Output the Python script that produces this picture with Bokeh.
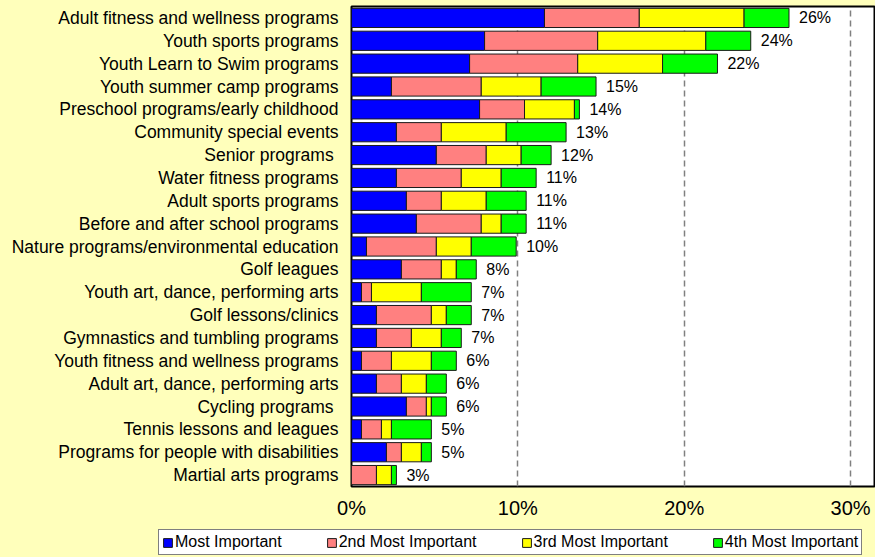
from bokeh.plotting import figure
from bokeh.models import (FactorRange, Range1d, Legend, LegendItem, LabelSet,
                          ColumnDataSource, FixedTicker, PrintfTickFormatter)
from bokeh.core.properties import value
from bokeh.embed import file_html
from bokeh.resources import INLINE

categories = [
    "Adult fitness and wellness programs",
    "Youth sports programs",
    "Youth Learn to Swim programs",
    "Youth summer camp programs",
    "Preschool programs/early childhood",
    "Community special events",
    "Senior programs ",
    "Water fitness programs",
    "Adult sports programs",
    "Before and after school programs",
    "Nature programs/environmental education",
    "Golf leagues",
    "Youth art, dance, performing arts",
    "Golf lessons/clinics",
    "Gymnastics and tumbling programs",
    "Youth fitness and wellness programs",
    "Adult art, dance, performing arts",
    "Cycling programs ",
    "Tennis lessons and leagues",
    "Programs for people with disabilities",
    "Martial arts programs",
]
most_important = [11.6, 8.0, 7.1, 2.4, 7.7, 2.7, 5.1, 2.7, 3.3, 3.9, 0.9,
                  3.0, 0.6, 1.5, 1.5, 0.6, 1.5, 3.3, 0.6, 2.1, 0.0]
second_most = [5.7, 6.8, 6.5, 5.4, 2.7, 2.7, 3.0, 3.9, 2.1, 3.9, 4.2,
               2.4, 0.6, 3.3, 2.1, 1.8, 1.5, 1.2, 1.2, 0.9, 1.5]
third_most = [6.3, 6.5, 5.1, 3.6, 3.0, 3.9, 2.1, 2.4, 2.7, 1.2, 2.1,
              0.9, 3.0, 0.9, 1.8, 2.4, 1.5, 0.3, 0.6, 1.2, 0.9]
fourth_most = [2.7, 2.7, 3.3, 3.3, 0.3, 3.6, 1.8, 2.1, 2.4, 1.5, 2.7,
               1.2, 3.0, 1.5, 1.2, 1.5, 1.2, 0.9, 2.4, 0.6, 0.3]
total_labels = ["26%", "24%", "22%", "15%", "14%", "13%", "12%", "11%", "11%",
                "11%", "10%", "8%", "7%", "7%", "7%", "6%", "6%", "6%", "5%",
                "5%", "3%"]
series_names = ["Most Important", "2nd Most Important", "3rd Most Important",
                "4th Most Important"]
x_ticks = [0, 10, 20, 30]

colors = ["#0000FF", "#FF8080", "#FFFF00", "#00FF00"]
BG = "#FFFFBB"
FONT = "Liberation Sans"

keys = ["most", "second", "third", "fourth"]
totals = [a + b + c + d for a, b, c, d in zip(most_important, second_most, third_most, fourth_most)]
source = ColumnDataSource(dict(
    cat=categories, most=most_important, second=second_most,
    third=third_most, fourth=fourth_most, total=totals, lab=total_labels))

p = figure(width=875, height=525, output_backend="svg", toolbar_location=None,
           y_range=FactorRange(factors=list(reversed(categories)), range_padding=0),
           x_range=Range1d(0, 31.5),
           min_border_left=351, min_border_right=0, min_border_top=6,
           min_border_bottom=39)
p.background_fill_color = "white"
p.border_fill_color = BG
p.outline_line_color = "black"
p.outline_line_width = 2

renderers = p.hbar_stack(keys, y="cat", height=0.84, color=colors,
                         line_color="#1a1a1a", line_width=1, source=source)

p.ygrid.grid_line_color = None
p.xgrid.ticker = FixedTicker(ticks=x_ticks)
p.xgrid.grid_line_color = "#808080"
p.xgrid.grid_line_width = 1.5
p.xgrid.grid_line_dash = "6 4"

p.xaxis.ticker = FixedTicker(ticks=x_ticks)
p.xaxis.formatter = PrintfTickFormatter(format="%d%%")
p.xaxis.major_label_text_font = FONT
p.xaxis.major_label_text_font_size = "20px"
p.xaxis.major_label_text_color = "black"
p.xaxis.major_label_standoff = 10
p.xaxis.major_tick_out = 0
p.xaxis.major_tick_in = 0
p.xaxis.minor_tick_out = 0
p.xaxis.minor_tick_in = 0
p.xaxis.axis_line_color = None

p.yaxis.major_label_text_font = FONT
p.yaxis.major_label_text_font_size = "17.5px"
p.yaxis.major_label_text_color = "black"
p.yaxis.major_label_standoff = 13
p.yaxis.major_tick_out = 0
p.yaxis.major_tick_in = 0
p.yaxis.axis_line_color = None

labels = LabelSet(x="total", y="cat", text="lab", source=source, x_offset=10,
                  text_baseline="middle", text_font=value(FONT),
                  text_font_size=value("16px"), text_color="black")
p.add_layout(labels)

# legend strip below the chart (separate root so it is not frame-aligned)
pl = figure(width=875, height=32, output_backend="svg", toolbar_location=None,
            x_range=Range1d(0, 1), y_range=Range1d(0, 1),
            x_axis_type=None, y_axis_type=None,
            min_border_left=0, min_border_right=0, min_border_top=0,
            min_border_bottom=0)
pl.background_fill_color = BG
pl.border_fill_color = BG
pl.outline_line_color = None
pl.xgrid.grid_line_color = None
pl.ygrid.grid_line_color = None

# legend proxies: one zero-width bar each, placed outside the visible range
proxy_src = ColumnDataSource(dict(y=[-5.0], left=[0.0], right=[0.0]))
swatches = [pl.hbar(y="y", left="left", right="right", height=0.5, fill_color=c,
                    line_color="#1a1a1a", line_width=1, source=proxy_src)
            for c in colors]
legend = Legend(items=[LegendItem(label=n, renderers=[r]) for n, r in zip(series_names, swatches)],
                orientation="horizontal", location=(158, 2),
                label_text_font=FONT, label_text_font_size="16px",
                label_text_color="black", glyph_width=11, glyph_height=11,
                label_standoff=2, spacing=44, padding=3, margin=0,
                border_line_color="black", border_line_width=1,
                background_fill_color="white", background_fill_alpha=1.0,
                label_height=16)
pl.add_layout(legend, "center")

html = file_html([p, pl], INLINE)
html = html.replace("</head>", "<style>body{background:%s;}</style></head>" % BG, 1)
open("out.html", "w").write(html)
